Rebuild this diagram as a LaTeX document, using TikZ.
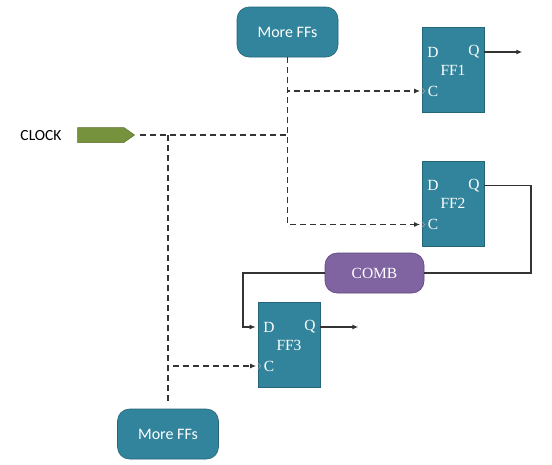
\documentclass[tikz,border=0pt]{standalone}
\usepackage{fontspec}
\setmainfont{Liberation Serif}
\newfontfamily\carlitofont{Carlito}
\usetikzlibrary{arrows.meta,shapes.symbols}
\definecolor{teal1}{HTML}{31849B}
\definecolor{teal2}{HTML}{25657A}
\definecolor{purp1}{HTML}{8064A2}
\definecolor{purp2}{HTML}{5E4A7A}
\definecolor{grn1}{HTML}{76923C}
\definecolor{grn2}{HTML}{5A702D}
\definecolor{wire}{HTML}{333333}
\tikzset{
  ffbox/.style={rectangle, fill=teal1, draw=teal2, line width=0.6pt, minimum width=62pt, minimum height=85pt, inner sep=0pt},
  morebox/.style={rectangle, rounded corners=12pt, fill=teal1, draw=teal2, line width=0.6pt, minimum width=101pt, minimum height=50pt, inner sep=0pt, text=white, font=\carlitofont\fontsize{16}{18}\selectfont},
  combbox/.style={rectangle, rounded corners=12pt, fill=purp1, draw=purp2, line width=0.6pt, minimum width=99pt, minimum height=40pt, inner sep=0pt, text=white, font=\fontsize{15.5}{18}\selectfont},
  pinlbl/.style={text=white, inner sep=0pt, font=\fontsize{15.5}{18}\selectfont},
  clkwire/.style={draw=wire, line width=1.2pt, dash pattern=on 6pt off 4pt},
  sigwire/.style={draw=wire, line width=1.1pt},
  tip/.style={-{Latex[length=6pt,width=5pt]}},
  chev/.style={draw=gray!70, line width=0.6pt},
}
\begin{document}
\begin{tikzpicture}[x=1pt,y=-1pt]
\useasboundingbox (0,0) rectangle (552,464);

% boxes
\node[morebox] (more1) at (287.5,32) {More FFs};
\node[morebox] (more2) at (168,434) {More FFs};
\node[combbox] (comb) at (374.5,273) {COMB};
\node[ffbox] (ff1) at (453,70) {};
\node[ffbox] (ff2) at (453,203.5) {};
\node[ffbox] (ff3) at (289,345) {};

% clock source
\node[font=\carlitofont\fontsize{15.5}{18}\selectfont, inner sep=0pt] (clklbl) at (41,136) {CLOCK};
\node[signal, signal to=east, signal pointer angle=70, fill=grn1, draw=grn2, line width=0.5pt,
      minimum width=57pt, minimum height=15pt, inner sep=0pt, anchor=east] (clk) at (135,135) {};

% flip-flop labels
\foreach \f/\n in {ff1/FF1,ff2/FF2,ff3/FF3}{
  \node[pinlbl] (\f D) at ([shift={(-20,-18)}]\f.center) {D};
  \node[pinlbl] (\f Q) at ([shift={(21,-18)}]\f.center) {Q};
  \node[pinlbl] (\f N) at ([shift={(0,0)}]\f.center) {\n};
  \node[pinlbl] (\f C) at ([shift={(-20,21)}]\f.center) {C};
  \coordinate (\f Din) at (\f.west |- \f D);
  \coordinate (\f Cin) at (\f.west |- \f C);
  \coordinate (\f Qout) at (\f.east |- \f Q);
  \draw[chev] ([shift={(0,-3)}]\f Cin) -- ++(3,3) -- ++(-3,3);
}

% junctions / free ends
\coordinate (jtop) at (more1.south |- clk.east);
\coordinate (jleft) at (more2.north |- clk.east);
\coordinate (out1) at ([xshift=38pt]ff1Qout);
\coordinate (out3) at ([xshift=38pt]ff3Qout);
\coordinate (rbend) at (531,184);
\coordinate (lbend) at (243,272);

% clock distribution (dashed)
\draw[clkwire, shorten <=5pt] (clk.east) -- (jtop);
\draw[clkwire, tip, shorten >=1.5pt] (more1.south) |- (ff1Cin);
\draw[clkwire, tip, shorten >=1.5pt] (more1.south) |- (ff2Cin);
\draw[clkwire, shorten >=4pt] (jleft) -- (more2.north);
\draw[clkwire, tip, shorten >=1.5pt] ([xshift=5pt]jleft |- ff3Cin) -- (ff3Cin);

% data path (solid)
\draw[sigwire, tip] (ff1Qout) -- (out1);
\draw[sigwire] (ff2Qout) -- (ff2Qout -| rbend) |- (comb.east);
\draw[sigwire, tip, shorten >=2pt] (comb.west) -| (lbend) |- (ff3Din);
\draw[sigwire, tip] (ff3Qout) -- (out3);
\end{tikzpicture}
\end{document}
